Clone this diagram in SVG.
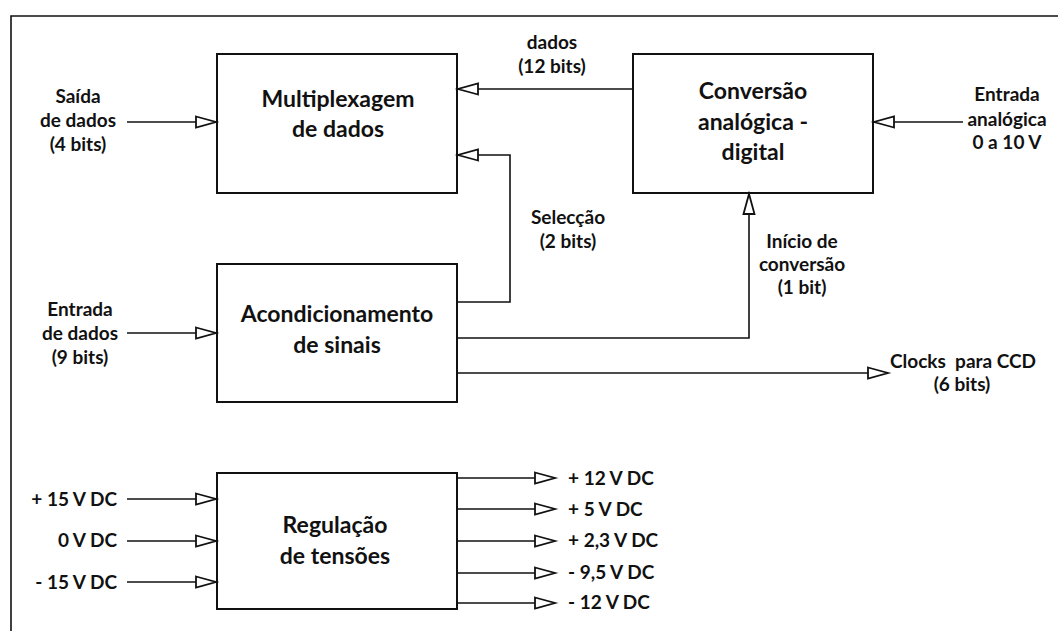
<svg xmlns="http://www.w3.org/2000/svg" width="1061" height="631" viewBox="0 0 1061 631">
<style>
.box{fill:#fff;stroke:#111;stroke-width:2}
.ln{fill:none;stroke:#111;stroke-width:1.6}
.t{font-family:Lato,"Liberation Sans",sans-serif;font-weight:bold;fill:#111;text-anchor:middle;white-space:pre}
.big{font-size:23px}
.sm{font-size:19px}
.l{text-anchor:start}
.r{text-anchor:end}
</style>
<defs>
<marker id="ah" markerUnits="userSpaceOnUse" markerWidth="24" markerHeight="14" refX="21" refY="6" orient="auto" overflow="visible">
<path d="M1,0.5 L21,6 L1,11.5 Z" fill="#fff" stroke="#111" stroke-width="1.8"/>
</marker>
</defs>
<rect width="1061" height="631" fill="#fff"/>
<path class="ln" d="M11,631 V16 H1058" stroke-width="2"/>

<g id="mux">
<rect class="box" x="217" y="54" width="240" height="139"/>
<text class="t big" x="338" y="107">Multiplexagem</text>
<text class="t big" x="338" y="137">de dados</text>
</g>
<g id="adc">
<rect class="box" x="633" y="54" width="240" height="139"/>
<text class="t big" x="753" y="99">Conversão</text>
<text class="t big" x="753" y="130">analógica -</text>
<text class="t big" x="753" y="160">digital</text>
</g>
<g id="cond">
<rect class="box" x="217" y="264" width="240" height="138"/>
<text class="t big" x="337" y="322">Acondicionamento</text>
<text class="t big" x="337" y="353">de sinais</text>
</g>
<g id="reg">
<rect class="box" x="217" y="473" width="240" height="136"/>
<text class="t big" x="335" y="533">Regulação</text>
<text class="t big" x="335" y="564">de tensões</text>
</g>

<g id="connectors">
<path class="ln" d="M633,89 H458" marker-end="url(#ah)"/>
<path class="ln" d="M457,302 H510 V155 H458" marker-end="url(#ah)"/>
<path class="ln" d="M127,122 H216" marker-end="url(#ah)"/>
<path class="ln" d="M127,333 H216" marker-end="url(#ah)"/>
<path class="ln" d="M963,122 H874" marker-end="url(#ah)"/>
<path class="ln" d="M457,338 H749 V194" marker-end="url(#ah)"/>
<path class="ln" d="M457,373 H888" marker-end="url(#ah)"/>
<path class="ln" d="M127,499 H216" marker-end="url(#ah)"/>
<path class="ln" d="M127,541 H216" marker-end="url(#ah)"/>
<path class="ln" d="M127,582 H216" marker-end="url(#ah)"/>
<path class="ln" d="M457,478 H555" marker-end="url(#ah)"/>
<path class="ln" d="M457,509 H555" marker-end="url(#ah)"/>
<path class="ln" d="M457,541 H555" marker-end="url(#ah)"/>
<path class="ln" d="M457,573 H555" marker-end="url(#ah)"/>
<path class="ln" d="M457,603 H555" marker-end="url(#ah)"/>
</g>

<g id="labels">
<text class="t sm" x="78" y="103">Saída</text>
<text class="t sm" x="78" y="127">de dados</text>
<text class="t sm" x="78" y="151">(4 bits)</text>
<text class="t sm" x="80" y="316">Entrada</text>
<text class="t sm" x="80" y="340">de dados</text>
<text class="t sm" x="80" y="364">(9 bits)</text>
<text class="t sm" x="552" y="49">dados</text>
<text class="t sm" x="552" y="73">(12 bits)</text>
<text class="t sm" x="1007" y="101">Entrada</text>
<text class="t sm" x="1007" y="126">analógica</text>
<text class="t sm" x="1007" y="149">0 a 10 V</text>
<text class="t sm" x="568" y="224">Selecção</text>
<text class="t sm" x="568" y="248">(2 bits)</text>
<text class="t sm" x="802" y="248">Início de</text>
<text class="t sm" x="802" y="271">conversão</text>
<text class="t sm" x="802" y="294">(1 bit)</text>
<text class="t sm l" x="890" y="368">Clocks  para CCD</text>
<text class="t sm" x="962" y="391">(6 bits)</text>
<text class="t sm r" x="117" y="506">+ 15 V DC</text>
<text class="t sm r" x="117" y="547">0 V DC</text>
<text class="t sm r" x="117" y="589">- 15 V DC</text>
<text class="t sm l" x="568" y="485">+ 12 V DC</text>
<text class="t sm l" x="568" y="516">+ 5 V DC</text>
<text class="t sm l" x="568" y="547">+ 2,3 V DC</text>
<text class="t sm l" x="568" y="579">- 9,5 V DC</text>
<text class="t sm l" x="568" y="609">- 12 V DC</text>
</g>
</svg>
